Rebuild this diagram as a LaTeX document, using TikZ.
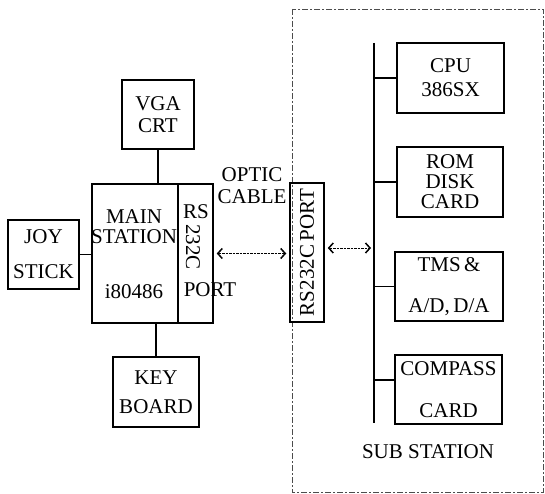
\documentclass[tikz,border=0pt]{standalone}
\usepackage{fontspec}
\setmainfont{Liberation Serif}
\usetikzlibrary{arrows.meta, positioning, calc}

\tikzset{
  blockbox/.style={draw, line width=1.5pt, inner sep=1pt, align=center},
  link/.style={line width=1.5pt},
  optlink/.style={line width=1pt, dash pattern=on 2.5pt off 1pt,
    {Straight Barb[length=4.5pt,width=10pt,line width=1.5pt]}-{Straight Barb[length=4.5pt,width=10pt,line width=1.5pt]},
    shorten >=3pt, shorten <=3pt},
  subframe/.style={line width=0.6pt, black!70, dash pattern=on 6pt off 2pt on 2pt off 2pt}
}

\begin{document}
\begin{tikzpicture}[x=1pt, y=-1pt, font=\fontsize{21}{20}\selectfont]
  \useasboundingbox (0,0) rectangle (545,494);

  % --- Main station ---
  \node[blockbox, minimum width=72pt, minimum height=69pt] (vga) at (158,114.5) {VGA\\[2pt]CRT};
  \node[blockbox, minimum width=86pt, minimum height=139pt] (main) at (135,253.5) {};
  \node[align=center] (mainTxt) at (134,254.5) {MAIN\\STATION\\[35pt]i80486};
  \node[blockbox, minimum width=35pt, minimum height=139pt] (port1) at (195.5,253.5) {};
  \node (port1rs) at (196,212) {RS};
  \node[rotate=-90] (port1num) at (193,247) {232C};
  \node (port1port) at (210,290) {PORT};
  \node[blockbox, minimum width=71pt, minimum height=69pt] (joy) at (43.5,254.5) {JOY\\[15pt]STICK};
  \node[blockbox, minimum width=86pt, minimum height=70pt] (key) at (156,392) {KEY\\[9pt]BOARD};

  \draw[link] (vga.south) -- (vga.south |- main.north);
  \draw[link] (joy.east) -- (joy.east -| main.west);
  \draw[link] (key.north) -- (key.north |- main.south);

  % Optic cable
  \node[align=center] (optic) at (252,186) {OPTIC\\[2pt]CABLE};

  % --- Sub station ---
  \draw[subframe] (292,9) rectangle (543,492);
  \node[blockbox, minimum width=34pt, minimum height=139pt] (port2) at (307,252.5) {};
  \node[rotate=90] (port2txt) at (port2.center) {RS232C\,PORT};

  \draw[optlink] (port1.east) -- (port1.east -| port2.west);

  % Bus and cards
  \coordinate (busTop) at (374,43);
  \coordinate (busBot) at (374,423);
  \coordinate (busIn) at (374,248);
  \draw[link] (busTop) -- (busBot);
  \draw[optlink] (port2.east |- busIn) -- (busIn);

  \node[blockbox, minimum width=107pt, minimum height=70pt] (cpu) at (450.5,78) {CPU\\[4pt]386SX};
  \node[blockbox, minimum width=106pt, minimum height=70pt] (rom) at (450,182) {ROM\\DISK\\CARD};
  \node[blockbox, minimum width=108pt, minimum height=69pt] (tms) at (449,286.5) {TMS\,\&\\[21pt]A/D,\,D/A};
  \node[blockbox, minimum width=107pt, minimum height=69pt] (comp) at (448.5,389.5) {COMPASS\\[22pt]CARD};
  \coordinate (compIn) at ($(comp.west)+(0,-9.5)$);

  \draw[link] (busTop |- cpu.west) -- (cpu.west);
  \draw[link] (busTop |- rom.west) -- (rom.west);
  \draw[link] (busTop |- tms.west) -- (tms.west);
  \draw[link] (busTop |- compIn) -- (compIn);

  \node (sub) at (428,452) {SUB STATION};
\end{tikzpicture}
\end{document}
